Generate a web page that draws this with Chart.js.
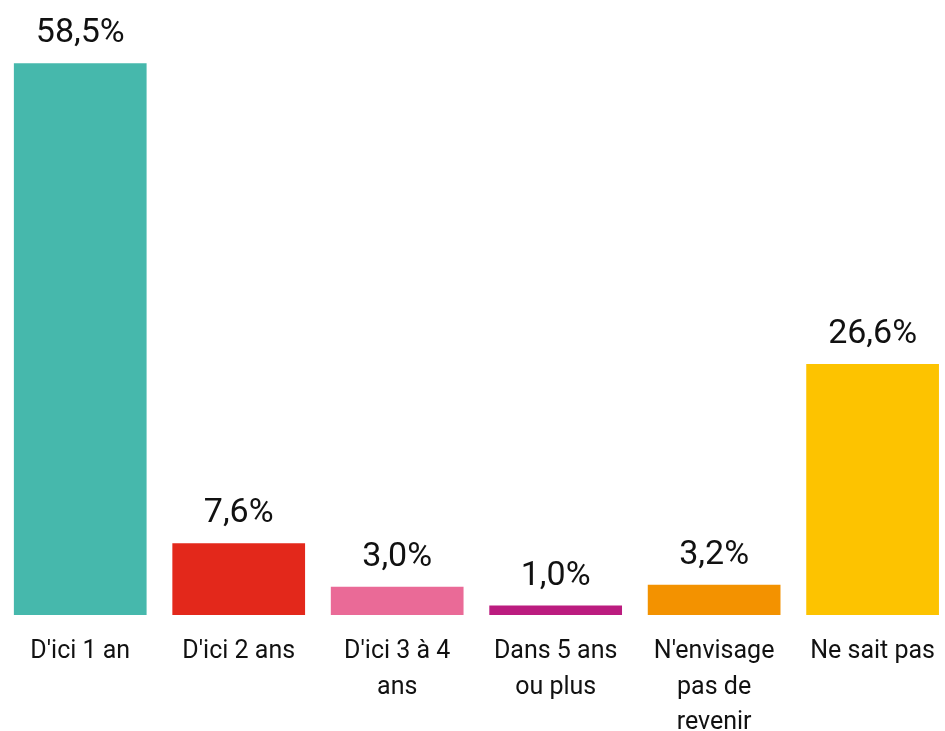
<!DOCTYPE html>
<html>
<head>
<meta charset="utf-8">
<script src="https://cdn.jsdelivr.net/npm/chart.js@4"></script>
<style>
html,body{margin:0;padding:0;background:#fff;overflow:hidden;}
#wrap{position:relative;width:954px;height:731px;}
</style>
</head>
<body>
<div id="wrap"><canvas id="c"></canvas></div>
<script>
const categories = [
  ["D'ici 1 an"],
  ["D'ici 2 ans"],
  ["D'ici 3 à 4", "ans"],
  ["Dans 5 ans", "ou plus"],
  ["N'envisage", "pas de", "revenir"],
  ["Ne sait pas"]
];
const values = [58.5, 7.6, 3.0, 1.0, 3.2, 26.6];
const valueLabels = ["58,5%", "7,6%", "3,0%", "1,0%", "3,2%", "26,6%"];
const colors = ["#46B8AC", "#E3281B", "#EA6A97", "#BB1C7F", "#F39200", "#FDC300"];

const FONT = "Roboto, 'Open Sans', sans-serif";

const valueLabelPlugin = {
  id: 'valueLabels',
  afterDatasetsDraw(chart) {
    const ctx = chart.ctx;
    const meta = chart.getDatasetMeta(0);
    ctx.save();
    ctx.font = "34px " + FONT;
    ctx.fillStyle = "#111";
    ctx.textAlign = "center";
    ctx.textBaseline = "alphabetic";
    meta.data.forEach((bar, i) => {
      ctx.fillText(valueLabels[i], bar.x, bar.y - 21);
    });
    ctx.restore();
  }
};

new Chart(document.getElementById('c'), {
  type: 'bar',
  data: {
    labels: categories,
    datasets: [{
      data: values,
      backgroundColor: colors,
      borderWidth: 0,
      barPercentage: 0.8375,
      categoryPercentage: 1.0
    }]
  },
  options: {
    responsive: true,
    maintainAspectRatio: false,
    animation: false,
    layout: { padding: { left: 1, right: 0, top: 0, bottom: 0 } },
    plugins: { legend: { display: false }, tooltip: { enabled: false } },
    scales: {
      y: { display: false, min: 0, max: 65.2 },
      x: {
        grid: { display: false, drawTicks: false },
        border: { display: false },
        afterFit(scale) { scale.height = 116; },
        ticks: {
          color: "#111",
          font: { family: FONT, size: 25, lineHeight: 1.42 },
          padding: 19,
          maxRotation: 0,
          autoSkip: false
        }
      }
    }
  },
  plugins: [valueLabelPlugin]
});
</script>
</body>
</html>
